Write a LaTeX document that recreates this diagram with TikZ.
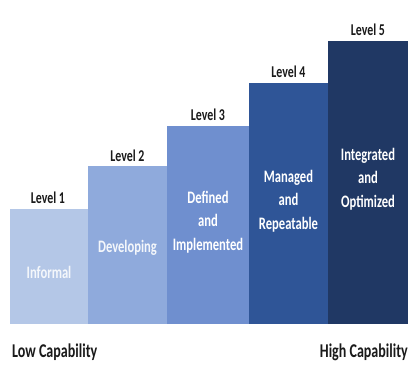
\documentclass[tikz,border=0pt]{standalone}
\usepackage{fontspec}
\setmainfont{Carlito}
\newfontfamily\condfont[FakeStretch=0.72]{Carlito}
\definecolor{cA}{HTML}{B4C7E7}
\definecolor{cB}{HTML}{8FAADC}
\definecolor{cC}{HTML}{6F8FCF}
\definecolor{cD}{HTML}{2F5597}
\definecolor{cE}{HTML}{203864}
\definecolor{lbl}{HTML}{1A1A1A}
\begin{document}
\begin{tikzpicture}[x=1pt,y=-1pt,
  lev/.style={font=\condfont\bfseries\fontsize{16.5}{18}\selectfont,text=lbl,inner sep=0pt},
  inside/.style={font=\condfont\bfseries\fontsize{17.5}{23.5}\selectfont,text=white,align=center,inner sep=0pt},
  capability/.style={font=\condfont\bfseries\fontsize{19.5}{20}\selectfont,text=lbl,inner sep=0pt}]
\useasboundingbox (0,0) rectangle (413,365);
\fill[white] (0,0) rectangle (413,365);
% bars
\fill[cA] (10,209) rectangle (88,324);
\fill[cB] (88,166) rectangle (167,324);
\fill[cC] (167,126) rectangle (249,324);
\fill[cD] (249,83) rectangle (328,324);
\fill[cE] (328,41) rectangle (408,324);
% level labels
\node[lev] (l1) at (48,198) {Level 1};
\node[lev] (l2) at (127.5,156) {Level 2};
\node[lev] (l3) at (208,115) {Level 3};
\node[lev] (l4) at (288.5,72) {Level 4};
\node[lev] (l5) at (368,30) {Level 5};
% inside texts
\node[inside,text=white!85!cA] (t1) at (49,272) {Informal};
\node[inside,text=white!90!cB] (t2) at (127.5,248) {Developing};
\node[inside] (t3) at (208,222) {Defined\\and\\Implemented};
\node[inside] (t4) at (288.5,201) {Managed\\and\\Repeatable};
\node[inside] (t5) at (368,179) {Integrated\\and\\Optimized};
% capability labels
\node[capability,anchor=west] (low) at (12,352) {Low Capability};
\node[capability,anchor=east] (high) at (408,352) {High Capability};
\end{tikzpicture}
\end{document}
